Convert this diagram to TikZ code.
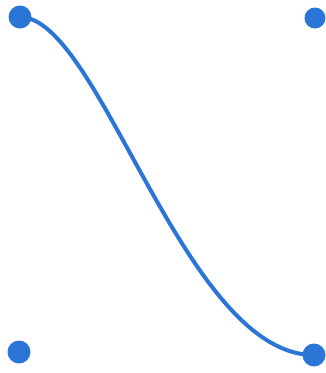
\documentclass[tikz,border=0pt]{standalone}
\definecolor{dotblue}{RGB}{43,117,214}
\begin{document}
\begin{tikzpicture}[x=1pt,y=-1pt,
  dot/.style={circle,fill=dotblue,inner sep=0pt,minimum size=23pt},
  link/.style={draw=dotblue,line width=4pt,line cap=round}]
\useasboundingbox (0,0) rectangle (326,373);
\coordinate (ptl) at (20,17);
\coordinate (ptr) at (315,18);
\coordinate (pbl) at (19,352);
\coordinate (pbr) at (314,355);
\draw[link] (ptl) .. controls +(80,0) and +(-130,0) .. (pbr);
\node[dot] (tl) at (ptl) {};
\node[dot,minimum size=21pt] (tr) at (ptr) {};
\node[dot] (bl) at (pbl) {};
\node[dot] (br) at (pbr) {};
\end{tikzpicture}
\end{document}
